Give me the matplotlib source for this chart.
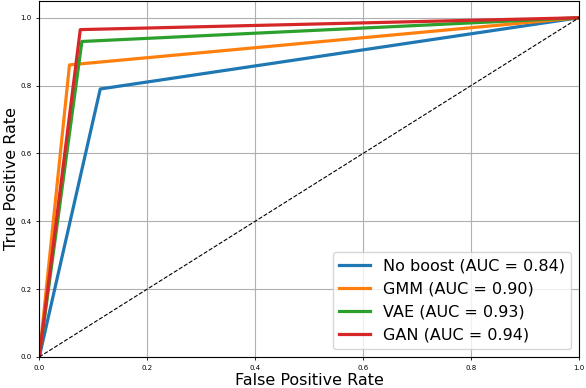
import matplotlib
matplotlib.use("Agg")
import matplotlib.pyplot as plt

# ROC points
labels = ["No boost (AUC = 0.84)", "GMM (AUC = 0.90)",
          "VAE (AUC = 0.93)", "GAN (AUC = 0.94)"]
fpr_noboost = [0.0, 0.113, 1.0]
tpr_noboost = [0.0, 0.79, 1.0]
fpr_gmm = [0.0, 0.056, 1.0]
tpr_gmm = [0.0, 0.861, 1.0]
fpr_vae = [0.0, 0.079, 1.0]
tpr_vae = [0.0, 0.93, 1.0]
fpr_gan = [0.0, 0.076, 1.0]
tpr_gan = [0.0, 0.965, 1.0]
colors = ["#1f77b4", "#ff7f0e", "#2ca02c", "#d62728"]

fig = plt.figure(figsize=(5.86, 3.88), dpi=100)
ax = fig.add_axes([0.067, 0.08, 0.921, 0.918])

curves = [(fpr_noboost, tpr_noboost), (fpr_gmm, tpr_gmm),
          (fpr_vae, tpr_vae), (fpr_gan, tpr_gan)]
for (x, y), lab, c in zip(curves, labels, colors):
    ax.plot(x, y, color=c, linewidth=2.3, label=lab)

# chance line
ax.plot([0, 1], [0, 1], "k--", linewidth=0.8)

ax.set_xlim(0, 1)
ax.set_ylim(0, 1.05)
ax.set_xticks([0, 0.2, 0.4, 0.6, 0.8, 1.0])
ax.set_yticks([0, 0.2, 0.4, 0.6, 0.8, 1.0])
ax.tick_params(labelsize=5, length=2, width=0.6)
ax.grid(True, color="#b0b0b0", linewidth=0.8)
ax.set_axisbelow(True)
ax.set_xlabel("False Positive Rate", fontsize=11.5, labelpad=2)
ax.set_ylabel("True Positive Rate", fontsize=11.5, labelpad=1)
ax.legend(loc="lower right", fontsize=11.5, handlelength=1.9)

fig.savefig("out.png", dpi=100)
